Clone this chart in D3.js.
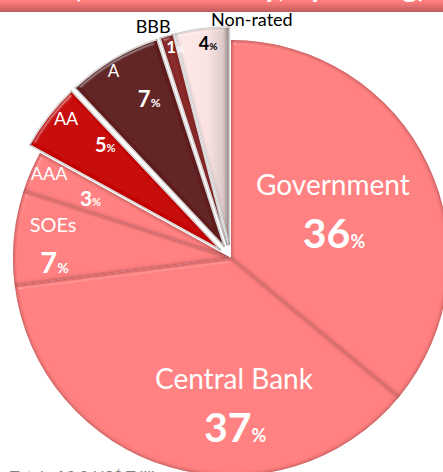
<!DOCTYPE html>
<html>
<head>
<meta charset="utf-8">
<script src="https://cdn.jsdelivr.net/npm/d3@7"></script>
<style>
  html, body { margin: 0; padding: 0; background: #ffffff; }
  svg { display: block; }
  text { font-family: Lato, "Open Sans", sans-serif; }
</style>
</head>
<body>
<svg id="chart" width="443" height="472"></svg>
<script>
// Holder / rating breakdown, shares in percent
const categories = ["Government", "Central Bank", "SOEs", "AAA", "AA", "A", "BBB", "Non-rated"];
const shares = [36, 37, 7, 3, 5, 7, 1, 4];
const explodedSlices = ["AA", "A", "BBB", "Non-rated"];
const titleText = "Bond Holders (Local Currency, by Rating)";
const titlePrefix = "Bond Holders ";
const footnoteText = "Total of 2.0 US$ Trillion";

// Styling
const sliceColors = {
  "Government": "#ff8080", "Central Bank": "#ff8080", "SOEs": "#ff8080", "AAA": "#ff8080",
  "AA": "#c80000", "A": "#622422", "BBB": "#8a2a2a", "Non-rated": "url(#nonRatedGrad)"
};
const nameColors = { "BBB": "#000", "Non-rated": "#000" };
const valueColors = { "Non-rated": "#000" };
// label placement: [angle offset from slice middle (deg), radius fraction]
const nameLayout = {
  "Government": [-10.4, 0.575], "Central Bank": [-17.6, 0.555], "SOEs": [5.1, 0.83],
  "AAA": [1.5, 0.92], "AA": [2.5, 0.93], "A": [-1.6, 0.954], "BBB": [-2.5, 1.062], "Non-rated": [12.9, 1.04]
};
const valueLayout = {
  "Government": [11.6, 0.486], "Central Bank": [-17.6, 0.775], "SOEs": [-7, 0.81],
  "AAA": [-0.4, 0.70], "AA": [4.5, 0.716], "A": [3.6, 0.76], "BBB": [1.5, 0.94], "Non-rated": [1.2, 0.93]
};
// font sizes: [name, value digits, percent sign]
const fontSizes = {
  "Government": [28, 41, 18], "Central Bank": [28, 41, 18], "SOEs": [20, 29, 14],
  "AAA": [18, 21, 11], "AA": [18, 20, 11], "A": [17, 22, 12], "BBB": [18, 17, 10], "Non-rated": [18, 18, 10]
};

const W = 443, H = 472;
const cx = 231, cy = 258, R = 218, explode = 13;

const svg = d3.select("#chart");
const defs = svg.append("defs");

// soft bevel: rim shadow inside each slice plus a top-left highlight
const f = defs.append("filter").attr("id", "bevel")
  .attr("x", "-10%").attr("y", "-10%").attr("width", "120%").attr("height", "120%");
f.append("feGaussianBlur").attr("in", "SourceAlpha").attr("stdDeviation", 2.2).attr("result", "blur");
const spec = f.append("feSpecularLighting").attr("in", "blur").attr("surfaceScale", 4)
  .attr("specularConstant", 0.6).attr("specularExponent", 40)
  .attr("lighting-color", "#ffffff").attr("result", "spec");
spec.append("feDistantLight").attr("azimuth", 235).attr("elevation", 40);
f.append("feComposite").attr("in", "spec").attr("in2", "SourceAlpha").attr("operator", "in").attr("result", "specIn");
f.append("feFlood").attr("flood-color", "#3b0d0d").attr("flood-opacity", 0.9).attr("result", "flood");
f.append("feComposite").attr("in", "flood").attr("in2", "SourceAlpha").attr("operator", "out").attr("result", "outside");
f.append("feGaussianBlur").attr("in", "outside").attr("stdDeviation", 1.9).attr("result", "outsideBlur");
f.append("feComposite").attr("in", "outsideBlur").attr("in2", "SourceAlpha").attr("operator", "in").attr("result", "inner");
const merge = f.append("feMerge").attr("result", "shaded");
merge.append("feMergeNode").attr("in", "SourceGraphic");
merge.append("feMergeNode").attr("in", "inner");
f.append("feComposite").attr("in", "shaded").attr("in2", "specIn")
  .attr("operator", "arithmetic").attr("k1", 0).attr("k2", 1).attr("k3", 0.35).attr("k4", 0);

// title bar gradient
const tg = defs.append("linearGradient").attr("id", "titleGrad").attr("x1", 0).attr("y1", 0).attr("x2", 0).attr("y2", 1);
tg.append("stop").attr("offset", "0%").attr("stop-color", "#ff8585");
tg.append("stop").attr("offset", "75%").attr("stop-color", "#ff7d7d");
tg.append("stop").attr("offset", "100%").attr("stop-color", "#c05c5c");

// light slice shaded toward grey on its right side
const ng = defs.append("linearGradient").attr("id", "nonRatedGrad").attr("x1", 0).attr("y1", 0).attr("x2", 1).attr("y2", 0);
ng.append("stop").attr("offset", "0%").attr("stop-color", "#fde8e8");
ng.append("stop").attr("offset", "60%").attr("stop-color", "#fbe2e2");
ng.append("stop").attr("offset", "88%").attr("stop-color", "#dccaca");
ng.append("stop").attr("offset", "100%").attr("stop-color", "#9a8888");

const data = categories.map((c, i) => ({ name: c, value: shares[i] }));
const pie = d3.pie().sort(null).value(d => d.value).startAngle(0).endAngle(2 * Math.PI);
const arcs = pie(data);
const arc = d3.arc().innerRadius(0).outerRadius(R);

function offsetOf(a) {
  if (!explodedSlices.includes(a.data.name)) return [0, 0];
  const mid = (a.startAngle + a.endAngle) / 2;
  return [explode * Math.sin(mid), -explode * Math.cos(mid)];
}
function polar(a, layout) {
  const mid = (a.startAngle + a.endAngle) / 2 + layout[0] * Math.PI / 180;
  const r = layout[1] * R;
  const o = offsetOf(a);
  return [cx + o[0] + r * Math.sin(mid), cy + o[1] - r * Math.cos(mid)];
}

const pieG = svg.append("g");
pieG.selectAll("path.slice").data(arcs).join("path")
  .attr("class", "slice")
  .attr("d", arc)
  .attr("transform", d => { const o = offsetOf(d); return `translate(${cx + o[0]},${cy + o[1]})`; })
  .attr("fill", d => sliceColors[d.data.name])
  .attr("stroke", d => explodedSlices.includes(d.data.name) ? "#ffffff" : "none")
  .attr("stroke-width", 1.5)
  .attr("filter", "url(#bevel)");

// labels: category name and percentage (digits larger than the % sign)
const labelG = svg.append("g");
arcs.forEach(a => {
  const n = a.data.name;
  const fs = fontSizes[n];
  const p1 = polar(a, nameLayout[n]);
  labelG.append("text")
    .attr("x", p1[0]).attr("y", p1[1] + 0.36 * fs[0])
    .attr("text-anchor", "middle")
    .attr("font-size", fs[0])
    .attr("fill", nameColors[n] || "#ffffff")
    .text(n);
  const p2 = polar(a, valueLayout[n]);
  const t = labelG.append("text")
    .attr("x", p2[0]).attr("y", p2[1] + 0.36 * fs[1])
    .attr("text-anchor", "middle")
    .attr("font-weight", "bold")
    .attr("fill", valueColors[n] || "#ffffff");
  t.append("tspan").attr("font-size", fs[1]).text(d3.format("d")(a.data.value));
  t.append("tspan").attr("font-size", fs[2]).text("%");
});

// title bar across the top, mostly above the visible area
svg.append("rect").attr("x", 0).attr("y", -30).attr("width", W).attr("height", 42)
  .attr("fill", "url(#titleGrad)");
const title = svg.append("text")
  .attr("y", -3).attr("font-size", 30).attr("font-weight", "bold").attr("fill", "#ffffff")
  .text(titleText);
const prefixW = title.node().getSubStringLength(0, titlePrefix.length);
title.attr("x", 73 - prefixW);

// footnote, cut by the bottom edge
svg.append("text").attr("x", 10).attr("y", 482).attr("font-size", 16)
  .attr("fill", "#808080").text(footnoteText);
</script>
</body>
</html>
